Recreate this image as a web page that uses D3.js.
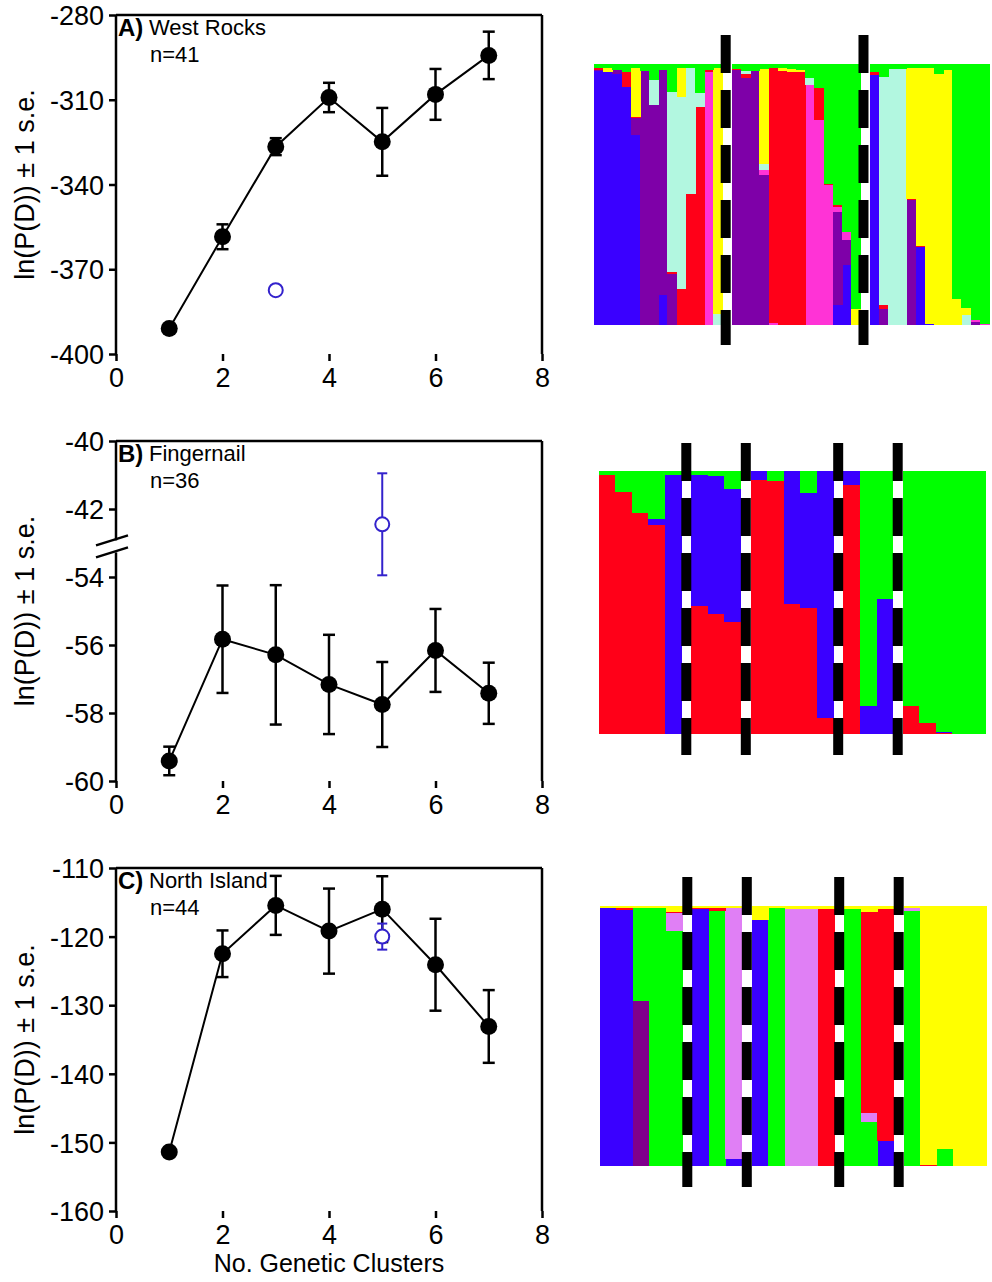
<!DOCTYPE html>
<html><head><meta charset="utf-8">
<script src="https://cdn.jsdelivr.net/npm/d3@7"></script>
<style>body{margin:0;background:#fff}svg{display:block}text{font-family:"Liberation Sans",Arial,Helvetica,sans-serif}</style>
</head><body>
<script>
// ---------------- DATA ----------------
const clusters = [1,2,3,4,5,6,7];
const xTicks = [0,2,4,6,8];

const westMean = [-391, -358.5, -326.6, -309.2, -324.9, -308.1, -294.3];
const westSE   = [0.5, 4.4, 3.0, 5.2, 12.0, 9.0, 8.4];
const westAltK = [3], westAltMean = [-377.4], westAltSE = [0];
const westTicks = [-280,-310,-340,-370,-400];

const fingerMean = [-59.41, -55.83, -56.29, -57.16, -57.75, -56.16, -57.42];
const fingerSE   = [0.42, 1.58, 2.05, 1.46, 1.25, 1.22, 0.90];
const fingerAltK = [5], fingerAltMean = [-42.45], fingerAltSE = [1.5];
const fingerTicks = [-40,-42,-54,-56,-58,-60];

const northMean = [-151.4, -122.5, -115.45, -119.2, -116.0, -124.1, -133.1];
const northSE   = [0.3, 3.4, 4.3, 6.2, 4.8, 6.7, 5.3];
const northAltK = [5], northAltMean = [-120.0], northAltSE = [1.9];
const northTicks = [-110,-120,-130,-140,-150,-160];

// STRUCTURE membership, stacked bottom -> top
const westKeys = ["blue","purple","pink","red","aqua","yellow","green"];
const westG1 = [
 [0.975,0.005,0,0.007,0,0,0.013],[0.969,0,0,0,0,0.018,0.013],[0.965,0.012,0,0,0,0,0.023],
 [0.914,0,0,0.058,0,0,0.028],[0.729,0.064,0,0.006,0,0.186,0.015],[0,0.975,0,0,0,0,0.025],
 [0,0.844,0,0,0.096,0,0.06],[0.115,0.863,0,0,0,0,0.022],[0,0.198,0,0.006,0.691,0,0.105],
 [0,0,0,0.141,0.735,0.109,0.015],[0,0,0,0.505,0.482,0,0.013],[0,0,0,0.838,0.051,0,0.111],
 [0,0,0.972,0.006,0,0,0.022],[0,0,0,0,0.045,0.94,0.015]];
const westG2 = [
 [0,0.979,0,0.004,0,0,0.017],[0,0.946,0,0.019,0.01,0,0.025],[0,0.974,0,0,0,0,0.026],
 [0,0.575,0.019,0,0.026,0.364,0.016],[0,0,0.01,0.975,0,0,0.015],[0,0,0,0.975,0,0.01,0.015],
 [0,0,0,0.972,0,0.01,0.018],[0,0,0,0.972,0,0.008,0.02],[0,0,0.92,0,0.026,0,0.054],
 [0,0,0.787,0.124,0,0,0.089],[0,0,0.537,0.006,0,0,0.457],[0.077,0.358,0.019,0.006,0,0,0.54],
 [0.23,0.096,0.032,0,0,0,0.642],[0,0,0,0,0,0.064,0.936]];
const westG3 = [
 [0.959,0,0,0.013,0,0,0.028],[0,0.064,0,0.013,0.876,0,0.047],[0,0,0,0,0.982,0,0.018],
 [0,0,0,0,0.982,0,0.018],[0,0.48,0,0.006,0,0.499,0.015],[0.30,0,0,0.006,0,0.679,0.015],
 [0.006,0,0,0,0,0.979,0.015],[0,0,0,0,0,0.965,0.035],[0,0,0,0,0,0.978,0.022],
 [0,0,0,0,0,0.102,0.898],[0,0,0,0,0.04,0.025,0.935],[0,0.013,0.006,0,0,0,0.981],
 [0,0,0.006,0,0,0,0.994]];

const fingerKeys = ["red","blue","green"];
const fingerG1 = [[0.987,0,0.013],[0.922,0,0.078],[0.84,0,0.16],[0.795,0.025,0.18],[0,0.987,0.013]];
const fingerG2 = [[0.488,0.5,0.012],[0.459,0.523,0.018],[0.428,0.506,0.066]];
const fingerG3 = [[0.968,0.032,0],[0.962,0,0.038],[0.494,0.506,0],[0.481,0.437,0.082],[0.063,0.937,0]];
const fingerG4 = [[0.95,0.05,0],[0,0.108,0.892],[0,0.513,0.487]];
const fingerG5 = [[0.108,0,0.892],[0.044,0,0.956],[0.006,0.004,0.99],[0,0,1],[0,0,1]];

const northKeys = ["blue","purple","green","violet","red","yellow"];
const northG1 = [[0.992,0,0,0,0,0.008],[0.985,0,0,0,0.007,0.008],[0,0.637,0.355,0,0,0.008],
 [0,0,0.992,0,0,0.008],[0,0,0.906,0.068,0.006,0.02]];
const northG2 = [[0.99,0,0,0,0.005,0.005],[0,0,0.983,0,0.009,0.008],[0.028,0,0,0.964,0,0.008]];
const northG3 = [[0.949,0,0,0,0,0.051],[0,0,0.992,0,0,0.008],[0,0,0,0.99,0,0.01],
 [0,0,0,0.99,0,0.01],[0,0,0,0,0.99,0.01]];
const northG4 = [[0,0,0.99,0,0,0.01],[0,0,0.169,0.038,0.77,0.023],[0.099,0,0,0,0.891,0.01]];
const northG5 = [[0,0,0.983,0.009,0,0.008],[0,0,0,0,0.006,0.994],[0,0,0.067,0,0,0.933],
 [0,0,0,0,0,1],[0,0,0,0,0,1]];

// ---------------- STYLE / LAYOUT ----------------
const colorMap = {blue:"#3a00ff",purple:"#7e00a8",pink:"#ff33d6",red:"#ff0018",aqua:"#b2f7e0",
  yellow:"#ffff00",green:"#00ff00",violet:"#e07ff5"};
const northColors = {purple:"#80008c"};
const ALT = "#3322cc";

const svg = d3.select("body").append("svg").attr("width",992).attr("height",1282);

const LX = {x0:116, x1:542};
const x = d3.scaleLinear().domain([0,8]).range([LX.x0, LX.x1]);

function frameAndAxes(g, y, ticks, fmt, top, bottom, breakY){
  const fr = g.append("g").attr("stroke","#000").attr("stroke-width",2.5).attr("fill","none");
  fr.append("line").attr("x1",LX.x0).attr("x2",LX.x1).attr("y1",top).attr("y2",top);
  fr.append("line").attr("x1",LX.x1).attr("x2",LX.x1).attr("y1",top).attr("y2",bottom);
  if(breakY==null){
    fr.append("line").attr("x1",LX.x0).attr("x2",LX.x0).attr("y1",top).attr("y2",bottom);
  } else {
    fr.append("line").attr("x1",LX.x0).attr("x2",LX.x0).attr("y1",top).attr("y2",breakY-6);
    fr.append("line").attr("x1",LX.x0).attr("x2",LX.x0).attr("y1",breakY+6).attr("y2",bottom);
    [-6,6].forEach(o=>{
      fr.append("line").attr("x1",LX.x0-20).attr("y1",breakY+o+5).attr("x2",LX.x0+12).attr("y2",breakY+o-5).attr("stroke-width",2.5);
    });
  }
  const ya = d3.axisLeft(y).tickValues(ticks).tickFormat(fmt).tickSize(7).tickPadding(5);
  const ag = g.append("g").attr("transform",`translate(${LX.x0},0)`).call(ya);
  ag.select(".domain").remove();
  ag.selectAll("line").attr("stroke-width",2.5);
  ag.selectAll("text").attr("font-size",27).attr("fill","#000").attr("dy","0.36em");
  const xa = d3.axisBottom(x).tickValues(xTicks).tickFormat(d=>String(d)).tickSize(7).tickPadding(7);
  const bg = g.append("g").attr("transform",`translate(0,${bottom})`).call(xa);
  bg.select(".domain").remove();
  bg.selectAll("line").attr("stroke-width",2.5);
  bg.selectAll("text").attr("font-size",27).attr("fill","#000");
}

function series(g, y, mean, se, altK, altMean, altSE){
  const pts = clusters.map((k,i)=>({k, m:mean[i], s:se[i]}));
  const eb = g.append("g").attr("stroke","#000").attr("stroke-width",2.5);
  pts.forEach(p=>{
    eb.append("line").attr("x1",x(p.k)).attr("x2",x(p.k)).attr("y1",y(p.m+p.s)).attr("y2",y(p.m-p.s));
    [p.m+p.s,p.m-p.s].forEach(v=>eb.append("line").attr("x1",x(p.k)-6).attr("x2",x(p.k)+6).attr("y1",y(v)).attr("y2",y(v)));
  });
  g.append("path").datum(pts).attr("fill","none").attr("stroke","#000").attr("stroke-width",2)
    .attr("d",d3.line().x(p=>x(p.k)).y(p=>y(p.m)));
  g.selectAll("circle.f").data(pts).join("circle").attr("cx",p=>x(p.k)).attr("cy",p=>y(p.m)).attr("r",8.5).attr("fill","#000");
  altK.forEach((k,i)=>{
    const m = altMean[i], s = altSE[i];
    if(s>0){
      const a = g.append("g").attr("stroke",ALT).attr("stroke-width",2);
      a.append("line").attr("x1",x(k)).attr("x2",x(k)).attr("y1",y(m+s)).attr("y2",y(m-s));
      [m+s,m-s].forEach(v=>a.append("line").attr("x1",x(k)-5).attr("x2",x(k)+5).attr("y1",y(v)).attr("y2",y(v)));
    }
    g.append("circle").attr("cx",x(k)).attr("cy",y(m)).attr("r",7).attr("fill","#fff").attr("stroke",ALT).attr("stroke-width",2);
  });
}

function labels(g, letter, name, n, top, cy){
  g.append("text").attr("x",118).attr("y",top+21).attr("font-size",24).attr("font-weight","bold").text(letter);
  g.append("text").attr("x",149).attr("y",top+20).attr("font-size",22).text(name);
  g.append("text").attr("x",150).attr("y",top+47).attr("font-size",22).text(n);
  g.append("text").attr("transform",`translate(34,${cy}) rotate(-90)`).attr("text-anchor","middle")
    .attr("font-size",27).text("ln(P(D)) \u00B1 1 s.e.");
}

// Panel A
{
  const top=15, bottom=354;
  const y = d3.scaleLinear().domain([-400,-280]).range([bottom,top]);
  const g = svg.append("g");
  frameAndAxes(g,y,westTicks,d=>String(d),top,bottom,null);
  series(g,y,westMean,westSE,westAltK,westAltMean,westAltSE);
  labels(g,"A)","West Rocks","n=41",top,(top+bottom)/2);
}
// Panel B (broken axis)
{
  const top=441, bottom=781;
  const ys = d3.scaleLinear().domain([-50,-40]).range([bottom,top]);
  const shift = v => v < -48 ? v+10 : v;
  const y = v => ys(shift(v));
  const g = svg.append("g");
  const sTicks = fingerTicks.map(shift);
  frameAndAxes(g,ys,sTicks,d=>String(d < -43 ? d-10 : d),top,bottom,ys(-43.1));
  series(g,y,fingerMean,fingerSE,fingerAltK,fingerAltMean,fingerAltSE);
  labels(g,"B)","Fingernail","n=36",top,(top+bottom)/2);
}
// Panel C
{
  const top=868, bottom=1211;
  const y = d3.scaleLinear().domain([-160,-110]).range([bottom,top]);
  const g = svg.append("g");
  frameAndAxes(g,y,northTicks,d=>String(d),top,bottom,null);
  series(g,y,northMean,northSE,northAltK,northAltMean,northAltSE);
  labels(g,"C)","North Island","n=44",top,(top+bottom)/2);
  svg.append("text").attr("x",(LX.x0+LX.x1)/2).attr("y",1272).attr("text-anchor","middle")
    .attr("font-size",25).text("No. Genetic Clusters");
}

// ---------------- STRUCTURE PLOTS ----------------
function structure(cfg, groups, keys, colors){
  let u = 0; const cols = []; const dashes = [];
  groups.forEach((grp,gi)=>{
    grp.forEach(v=>{ cols.push({u, v}); u += 1; });
    if(gi < groups.length-1){ dashes.push(u + cfg.slot/2); u += cfg.slot; }
  });
  const xs = d3.scaleLinear().domain([0,u]).range([cfg.x0,cfg.x1]);
  const ys = d3.scaleLinear().domain([0,1]).range([cfg.bottom,cfg.top]);
  const stack = d3.stack().keys(d3.range(keys.length)).value((d,k)=>d.v[k]);
  const layers = stack(cols);
  const g = svg.append("g").attr("shape-rendering","crispEdges");
  layers.forEach((layer,k)=>{
    g.selectAll(null).data(layer.filter(s=>s[1]-s[0]>0)).join("rect")
      .attr("x",s=>xs(s.data.u)).attr("width",s=>xs(s.data.u+1)-xs(s.data.u)+0.6)
      .attr("y",s=>ys(s[1])).attr("height",s=>ys(s[0])-ys(s[1])+0.4)
      .attr("fill",colors[keys[k]] || colorMap[keys[k]]);
  });
  svg.append("g").selectAll("line").data(dashes).join("line")
    .attr("x1",d=>xs(d)-cfg.nudge).attr("x2",d=>xs(d)-cfg.nudge).attr("y1",cfg.dTop).attr("y2",cfg.dBot)
    .attr("stroke","#000").attr("stroke-width",10).attr("stroke-dasharray","38 17");
}

structure({x0:594,x1:989,top:64,bottom:325,dTop:35,dBot:345,slot:1,nudge:1.5},[westG1,westG2,westG3],westKeys,{});
structure({x0:599,x1:985,top:471,bottom:734,dTop:443,dBot:755,slot:0.62,nudge:0},
  [fingerG1,fingerG2,fingerG3,fingerG4,fingerG5],fingerKeys,{});
structure({x0:600,x1:986,top:906,bottom:1166,dTop:877,dBot:1187,slot:0.62,nudge:0},
  [northG1,northG2,northG3,northG4,northG5],northKeys,northColors);
</script>
</body></html>
